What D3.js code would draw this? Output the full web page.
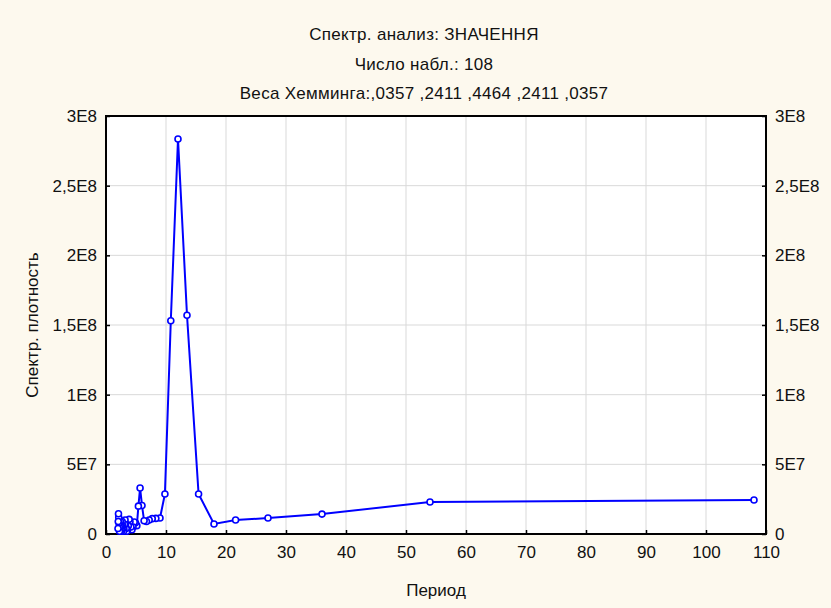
<!DOCTYPE html>
<html>
<head>
<meta charset="utf-8">
<script src="https://cdn.jsdelivr.net/npm/d3@7"></script>
<style>
  body { margin: 0; background: #fdf9ee; }
  svg { display: block; font-family: "Liberation Sans", Arial, sans-serif; }
</style>
</head>
<body>
<svg id="chart" width="831" height="608"></svg>
<script>
// periods (108/k) and spectral density
var periods = [108, 54, 36, 27, 21.6, 18, 15.43, 13.5, 12, 10.8, 9.82, 9, 8.31, 7.71, 7.2, 6.75,
  6.35, 6, 5.68, 5.4, 5.14, 4.91, 4.7, 4.5, 4.32, 4.15, 4, 3.86, 3.72, 3.6, 3.48, 3.375,
  3.27, 3.18, 3.09, 3, 2.92, 2.84, 2.77, 2.7, 2.63, 2.57, 2.51, 2.45, 2.4, 2.35, 2.3, 2.25,
  2.2, 2.16, 2.12, 2.08, 2.04, 2];
var density = [2.44e7, 2.3e7, 1.43e7, 1.15e7, 1.0e7, 0.72e7, 2.87e7, 1.57e8, 2.835e8, 1.53e8, 2.87e7, 1.15e7, 1.12e7, 1.1e7, 1.0e7, 0.9e7,
  0.95e7, 2.05e7, 3.3e7, 2.0e7, 0.6e7, 0.8e7, 0.86e7, 0.5e7, 0.3e7, 0.5e7, 0.9e7, 1.05e7, 0.6e7, 0.3e7, 0.2e7, 0.4e7,
  0.7e7, 1.0e7, 0.7e7, 0.3e7, 0.2e7, 0.4e7, 0.6e7, 0.9e7, 0.5e7, 0.2e7, 0.3e7, 0.6e7, 0.9e7, 0.6e7, 0.3e7, 0.2e7,
  0.5e7, 0.8e7, 1.2e7, 1.45e7, 0.9e7, 0.4e7];
var xTicks = [0, 10, 20, 30, 40, 50, 60, 70, 80, 90, 100, 110];
var yTicks = [0, 5e7, 1e8, 1.5e8, 2e8, 2.5e8, 3e8];
var yTickLabels = ["0", "5E7", "1E8", "1,5E8", "2E8", "2,5E8", "3E8"];
var titles = ["Спектр. анализ: ЗНАЧЕННЯ", "Число набл.: 108", "Веса Хемминга:,0357 ,2411 ,4464 ,2411 ,0357"];

var data = periods.map(function(p, i) { return { period: p, value: density[i] }; });

var margin = { top: 116, left: 106, bottom: 74, right: 65 };
var width = 831 - margin.left - margin.right;
var height = 608 - margin.top - margin.bottom;

var svg = d3.select("#chart");
svg.append("rect").attr("width", 831).attr("height", 608).attr("fill", "#fdf9ee");

var g = svg.append("g")
  .attr("transform", "translate(" + margin.left + "," + margin.top + ")");

var xScale = d3.scaleLinear().domain([0, 110]).range([0, width]);
var yScale = d3.scaleLinear().domain([0, 3e8]).range([height, 0]);

g.append("rect").attr("width", width).attr("height", height).attr("fill", "white");

// grid
g.selectAll(".vgrid").data(xTicks.slice(1, -1)).enter().append("line")
  .attr("x1", d => xScale(d)).attr("x2", d => xScale(d))
  .attr("y1", 0).attr("y2", height)
  .attr("stroke", "#d9d9d9").attr("stroke-width", 1);
g.selectAll(".hgrid").data(yTicks.slice(1, -1)).enter().append("line")
  .attr("y1", d => yScale(d)).attr("y2", d => yScale(d))
  .attr("x1", 0).attr("x2", width)
  .attr("stroke", "#d9d9d9").attr("stroke-width", 1);

// axes
var fmt = function(d) { return yTickLabels[yTicks.indexOf(d)]; };
var xAxis = d3.axisBottom(xScale).tickValues(xTicks).tickSizeInner(-4).tickSizeOuter(0).tickPadding(12);
var yAxisL = d3.axisLeft(yScale).tickValues(yTicks).tickFormat(fmt).tickSizeInner(-4).tickSizeOuter(0).tickPadding(9);
var yAxisR = d3.axisRight(yScale).tickValues(yTicks).tickFormat(fmt).tickSizeInner(-4).tickSizeOuter(0).tickPadding(9);

function styleAxis(sel) {
  sel.select(".domain").remove();
  sel.selectAll(".tick line").attr("stroke", "black").attr("stroke-width", 1.5);
  sel.selectAll(".tick text").attr("fill", "#111").style("font-size", "17px")
    .style("font-family", "'Liberation Sans', Arial, sans-serif");
}

g.append("g").attr("transform", "translate(0," + height + ")").call(xAxis).call(styleAxis);
g.append("g").call(yAxisL).call(styleAxis);
g.append("g").attr("transform", "translate(" + width + ",0)").call(yAxisR).call(styleAxis);

g.append("rect").attr("width", width).attr("height", height)
  .attr("fill", "none").attr("stroke", "black").attr("stroke-width", 2);

// series
var line = d3.line().x(d => xScale(d.period)).y(d => yScale(d.value));
g.append("path").datum(data).attr("d", line)
  .attr("fill", "none").attr("stroke", "#0000ff").attr("stroke-width", 2);

g.selectAll(".pt").data(data).enter().append("circle")
  .attr("cx", d => xScale(d.period)).attr("cy", d => yScale(d.value)).attr("r", 3)
  .attr("fill", "white").attr("stroke", "#0000ff").attr("stroke-width", 1.6);

// titles
svg.selectAll(".title").data(titles).enter().append("text")
  .attr("x", 424).attr("y", (d, i) => 40 + i * 29.5)
  .attr("text-anchor", "middle").style("font-size", "17px").style("letter-spacing", "0.3px")
  .attr("fill", "#111")
  .text(d => d);

svg.append("text").attr("x", 436).attr("y", 596).attr("text-anchor", "middle")
  .style("font-size", "17px").attr("fill", "#111").text("Период");

svg.append("text").attr("transform", "translate(38,325) rotate(-90)")
  .attr("text-anchor", "middle").style("font-size", "17px").attr("fill", "#111")
  .text("Спектр. плотность");
</script>
</body>
</html>
